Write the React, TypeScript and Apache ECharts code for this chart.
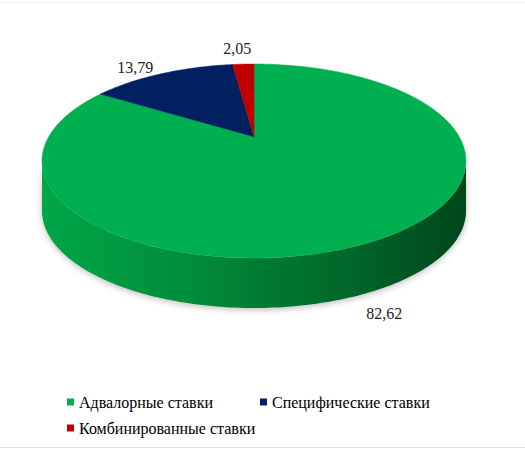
import React, { useEffect, useRef } from "react";
import * as echarts from "echarts";

const categories = ["Адвалорные ставки", "Специфические ставки", "Комбинированные ставки"];
const values = [82.62, 13.79, 2.05];
const valueLabels = ["82,62", "13,79", "2,05"];
const topColors = ["#00B050", "#002060", "#C00000"];

const FONT = "'Liberation Serif', Tinos, 'Times New Roman', serif";

export default function App() {
  const ref = useRef<HTMLDivElement>(null);
  useEffect(() => {
    if (!ref.current) return;
    const chart = echarts.init(ref.current, null, { renderer: "svg" });
    const total = values.reduce((a, b) => a + b, 0);
    const starts: number[] = [];
    let acc = 0;
    values.forEach((v) => {
      starts.push(acc);
      acc += v;
    });
    // label offsets from the projected rim point (px)
    const labelNudge = [
      [3, 25],
      [-27, -6],
      [-6, -16],
    ];

    const makeRender = (idx: number) => (params: any, api: any) => {
      const W = api.getWidth();
      const persp = 0.25;
      const cx = W * 0.4838;
      const halfW = 212;
      const topY = 64;
      const botY = 258;
      const Rx = halfW * Math.sqrt(1 - persp * persp);
      const Ry = (botY - topY) / (1 / (1 + persp) + 1 / (1 - persp));
      const cy = topY + Ry / (1 + persp);
      const depth = 50;
      const a1 = (starts[idx] / total) * Math.PI * 2;
      const a2 = ((starts[idx] + values[idx]) / total) * Math.PI * 2;
      const pt = (th: number, dy = 0) => {
        const X = Math.sin(th);
        const Z = Math.cos(th);
        const s = 1 / (1 + persp * Z);
        return [cx + Rx * X * s, cy - Ry * Z * s + dy];
      };
      const arc = (s: number, e: number, dy = 0) => {
        const n = Math.max(2, Math.ceil(((e - s) * 180) / Math.PI));
        const pts: number[][] = [];
        for (let k = 0; k <= n; k++) pts.push(pt(s + ((e - s) * k) / n, dy));
        return pts;
      };
      const children: any[] = [];
      const edgeA = Math.acos(-persp);
      const s = Math.max(a1, edgeA);
      const e = Math.min(a2, Math.PI * 2 - edgeA);
      if (e > s) {
        const sidePts = arc(s, e).concat(arc(s, e, depth).reverse());
        children.push({
          type: "polygon",
          z2: 1,
          shape: { points: sidePts },
          style: {
            fill: new echarts.graphic.LinearGradient(
              cx - halfW,
              0,
              cx + halfW,
              0,
              idx === 0
                ? [
                    { offset: 0, color: "#00A646" },
                    { offset: 0.35, color: "#008C3A" },
                    { offset: 0.7, color: "#00692B" },
                    { offset: 1, color: "#00461B" },
                  ]
                : [
                    { offset: 0, color: topColors[idx] },
                    { offset: 1, color: "#000000" },
                  ],
              true
            ),
            shadowBlur: 6,
            shadowColor: "rgba(0,0,0,0.25)",
            shadowOffsetY: 2,
          },
        });
      }
      const topPts = [[cx, cy]].concat(arc(a1, a2));
      children.push({
        type: "polygon",
        z2: 5,
        shape: { points: topPts },
        style: { fill: topColors[idx], stroke: topColors[idx], lineWidth: 0.5 },
      });
      const mid = (a1 + a2) / 2;
      const mp = pt(mid, Math.cos(mid) < 0 ? depth : 0);
      children.push({
        type: "text",
        z2: 10,
        style: {
          text: valueLabels[idx],
          x: mp[0] + labelNudge[idx][0],
          y: mp[1] + labelNudge[idx][1],
          fill: "#222",
          font: "16px " + FONT,
          align: "center",
          verticalAlign: "middle",
        },
      });
      return { type: "group", children };
    };

    const series = categories.map((name, idx) => ({
      type: "custom",
      name,
      coordinateSystem: "none",
      silent: true,
      itemStyle: { color: topColors[idx] },
      data: [[values[idx]]],
      renderItem: makeRender(idx),
    }));

    const legendCommon = {
      orient: "horizontal",
      icon: "rect",
      itemWidth: 7,
      itemHeight: 7,
      itemGap: 47,
      padding: 0,
      selectedMode: false,
      textStyle: { fontFamily: FONT, fontSize: 16, color: "#000" },
    };

    chart.setOption({
      animation: false,
      color: topColors,
      backgroundColor: "#fff",
      textStyle: { fontFamily: FONT },
      legend: [
        { ...legendCommon, left: 67, top: 394, data: [categories[0], categories[1]] },
        { ...legendCommon, left: 67, top: 420, data: [categories[2]] },
      ],
      graphic: [
        { type: "line", shape: { x1: 0, y1: 2.5, x2: 525, y2: 2.5 }, style: { stroke: "#eeeeee", lineWidth: 1 } },
        { type: "line", shape: { x1: 0, y1: 447.5, x2: 525, y2: 447.5 }, style: { stroke: "#dddddd", lineWidth: 1 } },
      ],
      series,
    });
    return () => chart.dispose();
  }, []);
  return (
    <div
      ref={ref}
      style={{ position: "absolute", left: 0, top: 0, width: 525, height: 459 }}
    />
  );
}
